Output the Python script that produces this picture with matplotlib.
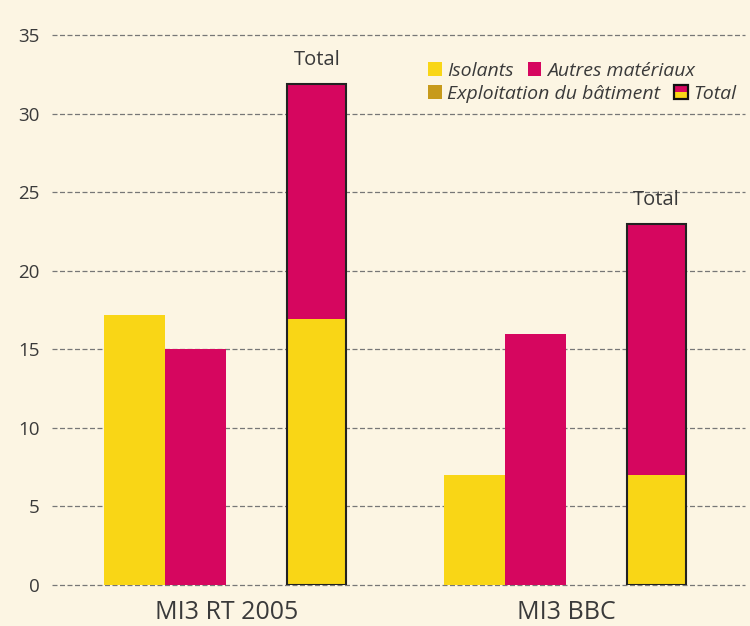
import matplotlib
matplotlib.use("Agg")
import matplotlib.pyplot as plt
from matplotlib.patches import Rectangle
from matplotlib.legend_handler import HandlerBase

categories = ["MI3 RT 2005", "MI3 BBC"]
isolants = [17.2, 7.0]
autres = [15.0, 16.0]
total_isolants = [16.9, 7.0]
total_autres = [15.0, 16.0]
yticks = [0, 5, 10, 15, 20, 25, 30, 35]

C_ISO = "#F9D616"
C_AUT = "#D6065F"
C_EXP = "#C79A1B"
BG = "#FCF5E3"
TXT = "#3a3a3a"

plt.rcParams['font.family'] = ['Open Sans', 'DejaVu Sans']

fig = plt.figure(figsize=(7.5, 6.26), dpi=100, facecolor=BG)
ax = fig.add_axes([52/750, 1-585/626, (745-52)/750, 550/626])
ax.set_facecolor(BG)

group_off = [0.0, 5.57]
w = 1.0
for i, g in enumerate(group_off):
    ax.bar(g, isolants[i], width=w, color=C_ISO, zorder=3, align='center')
    ax.bar(g + 1, autres[i], width=w, color=C_AUT, zorder=3)
    ax.bar(g + 2.98, total_isolants[i], width=0.97, color=C_ISO, zorder=3)
    ax.bar(g + 2.98, total_autres[i], bottom=total_isolants[i], width=0.97, color=C_AUT, zorder=3)
    tot = total_isolants[i] + total_autres[i]
    ax.bar(g + 2.98, tot, width=0.97, fill=False, edgecolor="#222222", linewidth=1.5, zorder=4)
    ax.text(g + 2.98, tot + 0.85, "Total", ha='center', va='bottom', fontsize=14.5, color=TXT)
    ax.text(g + 1.5, -0.95, categories[i], ha='center', va='top', fontsize=18, color=TXT)

ax.set_xlim(-1.36, 10.0)
ax.set_ylim(0, 35)
ax.set_yticks(yticks)
ax.set_yticklabels([str(t) for t in yticks], fontsize=13.5, color=TXT)
ax.tick_params(axis='y', length=0, pad=9)
ax.set_xticks([])
for s in ax.spines.values():
    s.set_visible(False)
ax.grid(axis='y', linestyle=(0, (4, 2)), color="#777777", linewidth=0.9, zorder=1)
ax.set_axisbelow(True)
for gl in ax.get_ygridlines():
    gl.set_clip_on(False)


class TotalHandler(HandlerBase):
    def create_artists(self, legend, orig_handle, xdescent, ydescent, width, height, fontsize, trans):
        s = height
        x0 = xdescent + (width - s) / 2
        y0 = -ydescent
        bot = Rectangle((x0, y0), s, s / 2, facecolor=C_ISO, edgecolor='none', transform=trans)
        top = Rectangle((x0, y0 + s / 2), s, s / 2, facecolor=C_AUT, edgecolor='none', transform=trans)
        box = Rectangle((x0, y0), s, s, facecolor='none', edgecolor='#111111', linewidth=1.6, transform=trans)
        return [bot, top, box]


class SquareHandler(HandlerBase):
    def create_artists(self, legend, orig_handle, xdescent, ydescent, width, height, fontsize, trans):
        s = height
        x0 = xdescent + (width - s) / 2
        r = Rectangle((x0, -ydescent), s, s, facecolor=orig_handle.get_facecolor(), edgecolor='none', transform=trans)
        return [r]


h_iso = Rectangle((0, 0), 1, 1, facecolor=C_ISO)
h_aut = Rectangle((0, 0), 1, 1, facecolor=C_AUT)
h_exp = Rectangle((0, 0), 1, 1, facecolor=C_EXP)
h_tot = Rectangle((0, 0), 1, 1, facecolor=C_AUT)

common = dict(frameon=False, ncol=2, handlelength=0.7, handleheight=0.7, handletextpad=0.3,
              columnspacing=0.7, borderpad=0, borderaxespad=0,
              prop={'style': 'italic', 'size': 14}, labelcolor=TXT,
              handler_map={Rectangle: SquareHandler()})
leg1 = fig.legend([h_iso, h_aut], ["Isolants", "Autres matériaux"], loc='upper left',
                  bbox_to_anchor=(428/750, 1-62/626), **common)
common2 = dict(common)
common2['handler_map'] = {h_tot: TotalHandler(), Rectangle: SquareHandler()}
leg2 = fig.legend([h_exp, h_tot], ["Exploitation du bâtiment", "Total"], loc='upper left',
                  bbox_to_anchor=(428/750, 1-85/626), **common2)

fig.savefig("out.png", dpi=100, facecolor=BG)
